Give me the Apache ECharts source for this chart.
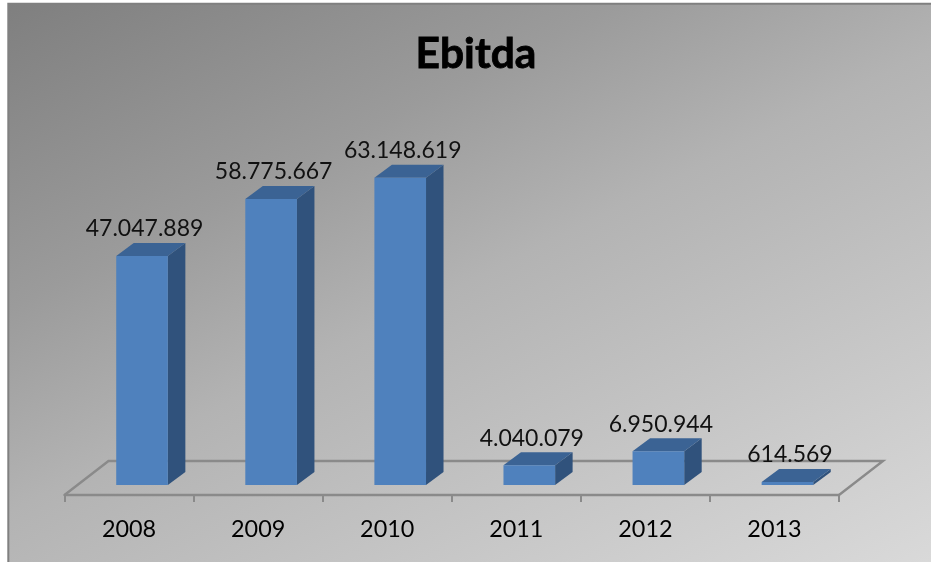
<!DOCTYPE html>
<html>
<head>
<meta charset="utf-8">
<style>html,body{margin:0;padding:0;background:#fff}#chart{width:931px;height:562px}</style>
<script src="https://cdn.jsdelivr.net/npm/echarts@6/dist/echarts.min.js"></script>
</head>
<body>
<div id="chart"></div>
<script>
// Ebitda per year, drawn as pseudo-3D columns on a floor plane
const years = ['2008', '2009', '2010', '2011', '2012', '2013'];
const ebitda = [47047889, 58775667, 63148619, 4040079, 6950944, 614569];
const chartTitle = 'Ebitda';

const FONT = 'Lato, Carlito, "Open Sans", sans-serif';
const DEPTH_X = 17.5, DEPTH_Y = 13;     // extrusion of a column
const FLOOR_DX = 44, FLOOR_DY = 34;     // extent of the floor plane
const FLOOR_DROP = 10;                  // front floor edge below the value-axis zero
const BAR_SHIFT = 13;                   // columns sit mid-way into the floor
const BAR_RATIO = 0.4;
const COL_FRONT = '#4f81bd', COL_SIDE = '#30527c', COL_TOP = '#3b6394', COL_LINE = '#8a8a8a';

const fmt = v => String(v).replace(/\B(?=(\d{3})+$)/g, '.');

function renderColumn(params, api) {
  const base = api.coord([api.value(0), 0]);
  const top = api.coord([api.value(0), api.value(1)]);
  const w = api.size([1, 0])[0] * BAR_RATIO;
  const x0 = base[0] + BAR_SHIFT - w / 2, x1 = x0 + w;
  const y0 = top[1], y1 = base[1];
  return {
    type: 'group',
    children: [
      { type: 'polygon', shape: { points: [[x1, y0], [x1 + DEPTH_X, y0 - DEPTH_Y], [x1 + DEPTH_X, y1 - DEPTH_Y], [x1, y1]] }, style: { fill: COL_SIDE } },
      { type: 'polygon', shape: { points: [[x0, y0], [x0 + DEPTH_X, y0 - DEPTH_Y], [x1 + DEPTH_X, y0 - DEPTH_Y], [x1, y0]] }, style: { fill: COL_TOP } },
      { type: 'rect', shape: { x: x0, y: y0, width: w, height: y1 - y0 }, style: { fill: COL_FRONT } },
      { type: 'text', z2: 10, style: { text: fmt(api.value(1)), x: base[0] + BAR_SHIFT + 2.5, y: y0 - 27, align: 'center', verticalAlign: 'middle', fill: '#111', font: '23px ' + FONT } }
    ]
  };
}

function renderFloor(params, api) {
  const c = params.coordSys;
  const yf = c.y + c.height + FLOOR_DROP, xl = c.x, xr = c.x + c.width;
  return {
    type: 'polyline',
    shape: { points: [[xl, yf], [xl + FLOOR_DX, yf - FLOOR_DY], [xr + FLOOR_DX, yf - FLOOR_DY], [xr, yf]] },
    style: { stroke: COL_LINE, lineWidth: 2.4, fill: null }
  };
}

const chart = echarts.init(document.getElementById('chart'), null, { renderer: 'canvas' });
chart.setOption({
  animation: false,
  backgroundColor: '#fff',
  graphic: [{
    type: 'rect', z: -10, silent: true,
    shape: { x: 8.3, y: 3.8, width: 930, height: 565 },
    style: {
      fill: { type: 'linear', global: true, x: 8, y: 3, x2: 416, y2: 818,
        colorStops: [
          { offset: 0, color: '#7f7f7f' }, { offset: 0.3, color: '#9b9b9b' },
          { offset: 0.5, color: '#b3b3b3' }, { offset: 1, color: '#d9d9d9' }
        ] },
      stroke: '#808080', lineWidth: 2
    }
  }],
  title: {
    text: chartTitle, left: 471, top: 28, textAlign: 'center',
    textStyle: { fontFamily: FONT, fontWeight: 'bold', fontSize: 42.5, color: '#000', textBorderColor: '#000', textBorderWidth: 0.8 }
  },
  grid: { left: 64.5, right: 92, top: 144.3, bottom: 77 },
  xAxis: {
    type: 'category', data: years, offset: FLOOR_DROP,
    axisLine: { onZero: false, lineStyle: { color: COL_LINE, width: 2.4 } },
    axisTick: { show: true, length: 7, lineStyle: { color: COL_LINE, width: 2 } },
    axisLabel: { color: '#000', fontFamily: FONT, fontSize: 23.4, margin: 23 }
  },
  yAxis: { type: 'value', min: 0, max: 70000000, show: false },
  series: [
    { type: 'custom', coordinateSystem: 'cartesian2d', data: [[0, 0]], renderItem: renderFloor, z: 1, silent: true },
    { type: 'custom', coordinateSystem: 'cartesian2d', data: ebitda.map((v, i) => [i, v]), encode: { x: 0, y: 1 }, renderItem: renderColumn, z: 2 }
  ]
});
</script>
</body>
</html>
